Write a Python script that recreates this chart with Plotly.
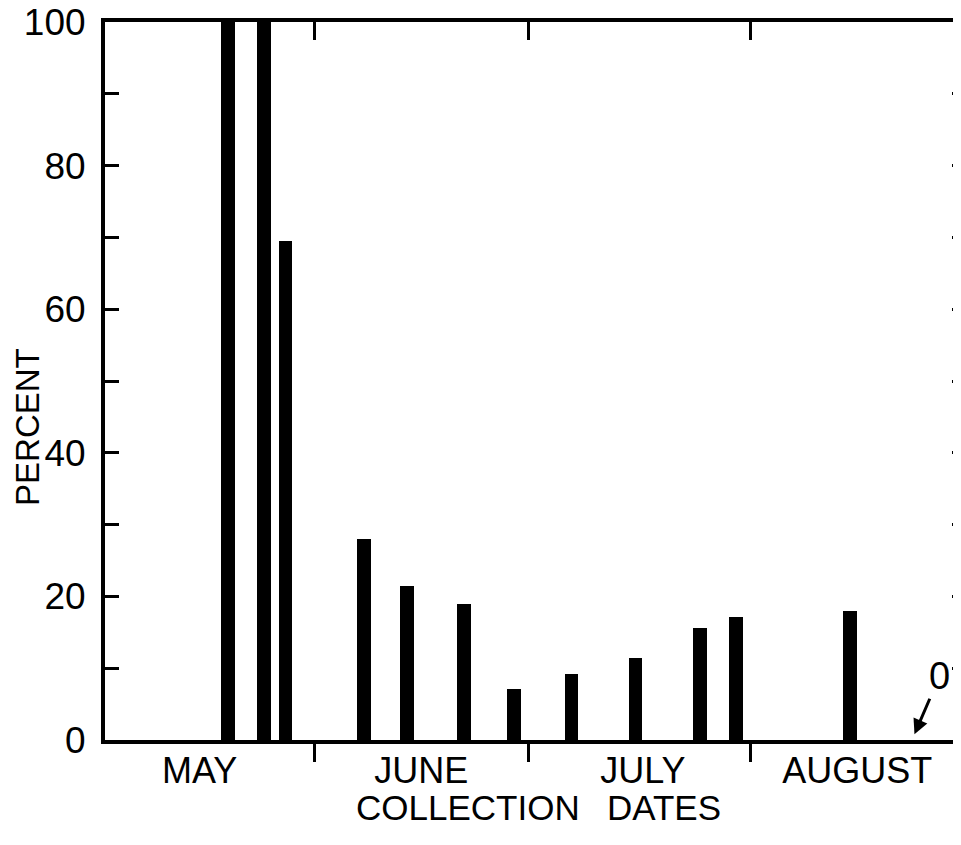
import plotly.graph_objects as go

# ---- data ----
collection_dates = ["2000-05-20", "2000-05-25", "2000-05-28", "2000-06-08", "2000-06-14",
                    "2000-06-22", "2000-06-29", "2000-07-07", "2000-07-16", "2000-07-25",
                    "2000-07-30", "2000-08-15", "2000-08-24"]
percent_values = [100, 100, 69.5, 28, 21.4, 19, 7.1, 9.2, 11.4, 15.6, 17.1, 18, 0]
month_boundaries = ["2000-06-01", "2000-07-01", "2000-08-01"]
month_label_dates = ["2000-05-16", "2000-06-16", "2000-07-17", "2000-08-16"]
month_labels = ["MAY", "JUNE", "JULY", "AUGUST"]
y_tick_vals = [0, 20, 40, 60, 80, 100]
y_minor_vals = [10, 30, 50, 70, 90]

FONT = "Liberation Sans"
DAY_MS = 86400000
x_range = ["2000-05-02 18:18", "2000-08-31 05:00"]

fig = go.Figure()
fig.add_trace(go.Bar(
    x=collection_dates, y=percent_values,
    width=[1.9 * DAY_MS] * len(collection_dates),
    marker=dict(color="black", line=dict(width=0)),
    showlegend=False,
))
# invisible trace to carry right y axis / top x axis
fig.add_trace(go.Scatter(x=[collection_dates[0]], y=[0], xaxis="x2", yaxis="y2",
                         mode="markers", marker=dict(opacity=0), showlegend=False,
                         hoverinfo="skip"))

fig.update_layout(
    width=961, height=845,
    margin=dict(l=97, r=3, t=14, b=113, autoexpand=False),
    paper_bgcolor="white", plot_bgcolor="white",
    font=dict(family=FONT, color="black"),
    bargap=0,
    xaxis=dict(
        type="date", range=x_range, automargin=False,
        tickmode="array", tickvals=month_label_dates, ticktext=month_labels,
        ticks="", tickfont=dict(size=36, family=FONT),
        ticklabelstandoff=-4, ticklabeloverflow="allow",
        minor=dict(tickmode="array", tickvals=month_boundaries, ticks="outside",
                   ticklen=18, tickwidth=3, tickcolor="black", showgrid=False),
        showgrid=False, zeroline=False,
        showline=True, linewidth=4, linecolor="black",
    ),
    xaxis2=dict(
        type="date", overlaying="x", matches="x", side="top", automargin=False,
        tickmode="array", tickvals=month_boundaries, ticktext=["", "", ""],
        ticks="inside", ticklen=18, tickwidth=3, tickcolor="black",
        showgrid=False, zeroline=False, showticklabels=False,
        showline=True, linewidth=4, linecolor="black",
    ),
    yaxis=dict(
        range=[0, 100], automargin=False, tickmode="array", tickvals=y_tick_vals,
        ticks="inside", ticklen=14, tickwidth=3, tickcolor="black",
        minor=dict(tickmode="array", tickvals=y_minor_vals, ticks="inside",
                   ticklen=14, tickwidth=3, tickcolor="black", showgrid=False),
        tickfont=dict(size=37, family=FONT), ticklabelstandoff=8,
        ticklabeloverflow="allow",
        showgrid=False, zeroline=False,
        showline=True, linewidth=4, linecolor="black",
    ),
    yaxis2=dict(
        range=[0, 100], overlaying="y", side="right", matches="y", automargin=False,
        tickmode="array", tickvals=y_tick_vals + y_minor_vals,
        ticks="inside", ticklen=14, tickwidth=3, tickcolor="black",
        showticklabels=False, showgrid=False, zeroline=False, showline=False,
    ),
    annotations=[
        dict(text="PERCENT", textangle=-90, xref="paper", x=0, xanchor="center",
             xshift=-77, yref="y", y=43.6, yanchor="middle", showarrow=False,
             font=dict(size=33, family=FONT)),
        dict(text="COLLECTION\u2002 DATES", xref="paper", x=0.5, xanchor="center",
             xshift=3, yref="paper", y=0, yanchor="middle", yshift=-67,
             showarrow=False, font=dict(size=35, family=FONT)),
        dict(text="0", xref="x", x=collection_dates[-1], yref="y", y=0.8,
             showarrow=True, arrowhead=2, arrowsize=1, arrowwidth=3, arrowcolor="black",
             ax=25, ay=-58, font=dict(size=38, family=FONT)),
    ],
)

fig.write_html("out.html")
